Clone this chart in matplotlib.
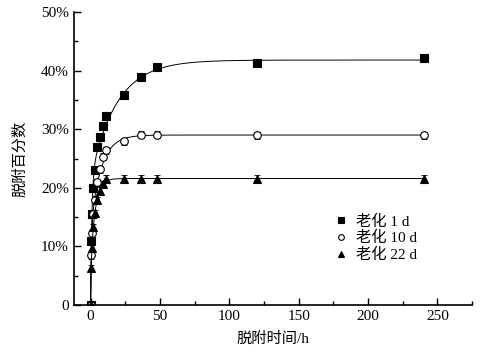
import numpy as np
import matplotlib.pyplot as plt
from matplotlib.ticker import MultipleLocator, FuncFormatter

plt.rcParams['font.family'] = ['Liberation Serif', 'Noto Sans CJK SC']
plt.rcParams['axes.unicode_minus'] = False

# desorption time (h) and desorption percentage (%)
t = [0, 0.5, 1, 2, 3, 5, 7, 9, 11, 24, 36, 48, 120, 240]
d1 = [0, 11.0, 15.6, 20.0, 23.0, 27.0, 28.7, 30.6, 32.2, 35.8, 38.9, 40.6, 41.3, 42.1]
d10 = [0, 8.5, 12.3, 15.6, 18.0, 21.0, 23.2, 25.3, 26.4, 28.0, 29.1, 29.1, 29.0, 29.0]
d22 = [0, 6.3, 9.7, 13.3, 15.7, 17.9, 19.5, 20.6, 21.6, 21.6, 21.6, 21.6, 21.6, 21.6]
err = 0.6
labels = ['老化 1 d', '老化 10 d', '老化 22 d']


def fit_two_phase(x, y):
    # q = A(1-exp(-k1 t)) + B(1-exp(-k2 t)), grid over k, lstsq for A,B
    x = np.asarray(x, float); y = np.asarray(y, float)
    w = np.where(x >= 24, 4.0, 1.0)  # weight the plateau more
    best = None
    ks = np.logspace(-3, 1, 80)
    for k1 in ks:
        for k2 in ks[ks < k1]:
            M = np.column_stack([1 - np.exp(-k1 * x), 1 - np.exp(-k2 * x)])
            coef, *_ = np.linalg.lstsq(M * w[:, None], y * w, rcond=None)
            r = np.sum(((M @ coef - y) * w) ** 2)
            if best is None or r < best[0]:
                best = (r, k1, k2, coef)
    _, k1, k2, (a, b) = best
    return lambda s: a * (1 - np.exp(-k1 * s)) + b * (1 - np.exp(-k2 * s))


fig = plt.figure(figsize=(4.96, 3.56), dpi=100)
ax = fig.add_axes([0.149, 0.143, 0.803, 0.823])

tt = np.linspace(0, 240, 2000)
styles = [dict(marker='s', mfc='black'), dict(marker='o', mfc='white'), dict(marker='^', mfc='black')]
for y, lab, st in zip([d1, d10, d22], labels, styles):
    f = fit_two_phase(t, y)
    ax.plot(tt, f(tt), color='black', lw=0.7)
    ax.errorbar(t, y, yerr=err, fmt='none', ecolor='black', elinewidth=0.6, capsize=2.5, capthick=0.6)
    ax.plot(t, y, ls='none', marker=st['marker'], mfc=st['mfc'], mec='black', mew=0.8,
            ms=5.5, label=lab)

ax.set_xlim(-12, 275)
ax.set_ylim(0, 50)
ax.xaxis.set_major_locator(MultipleLocator(50))
ax.xaxis.set_minor_locator(MultipleLocator(25))
ax.yaxis.set_major_locator(MultipleLocator(10))
ax.yaxis.set_minor_locator(MultipleLocator(5))
ax.yaxis.set_major_formatter(FuncFormatter(lambda v, p: '0' if v == 0 else '%d%%' % v))
ax.tick_params(which='both', direction='in', labelsize=11, width=1)
ax.tick_params(which='major', length=5)
ax.tick_params(which='minor', length=3)
for s in ['top', 'right']:
    ax.spines[s].set_visible(False)
for s in ['left', 'bottom']:
    ax.spines[s].set_linewidth(1.2)

ax.set_xlabel('脱附时间/h', fontsize=11, labelpad=6)
ax.set_ylabel('脱附百分数', fontsize=11, labelpad=10)

ax.legend(loc='upper left', bbox_to_anchor=(0.64, 0.33), frameon=False, fontsize=11,
          markerscale=0.75, handlelength=0.8, handletextpad=0.6, labelspacing=0.15,
          borderaxespad=0)

fig.savefig('out.png', dpi=100)
